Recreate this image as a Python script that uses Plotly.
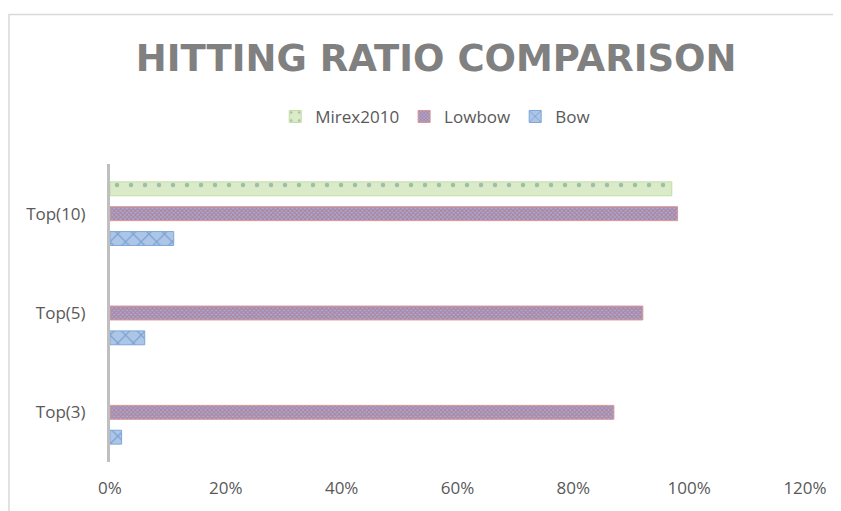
import plotly.graph_objects as go

categories = ["Top(3)", "Top(5)", "Top(10)"]
bow = [0.02, 0.06, 0.11]
lowbow = [0.87, 0.92, 0.98]
mirex2010 = [None, None, 0.97]

# the page body adds an 8px offset, so the figure is a bit smaller than the window
W, H = 833, 503
L, R, T, B = 102, 36, 156, 46

fig = go.Figure()
fig.add_trace(go.Bar(
    y=categories, x=bow, name="Bow", orientation="h",
    marker=dict(color="#a9c3e6", line=dict(color="#7ea6d6", width=1),
                pattern=dict(shape="x", fgcolor="#4a7ebb", bgcolor="#adc6e8", size=11, solidity=0.22)),
))
fig.add_trace(go.Bar(
    y=categories, x=lowbow, name="Lowbow", orientation="h",
    marker=dict(color="#b98c9e", line=dict(color="#d99694", width=1),
                pattern=dict(shape="x", fgcolor="#c0504d", bgcolor="#a4a9d4", size=3, solidity=0.5)),
))
fig.add_trace(go.Bar(
    y=categories, x=mirex2010, name="Mirex2010", orientation="h",
    marker=dict(color="#dbeac8", line=dict(color="#c3dca3", width=1),
                pattern=dict(shape=".", fgcolor="#5f9385", bgcolor="#dbeac8", size=14, solidity=0.08)),
))

fig.update_layout(
    width=W, height=H,
    margin=dict(l=L, r=R, t=T, b=B),
    paper_bgcolor="white", plot_bgcolor="white",
    barmode="group", bargap=0.25, bargroupgap=0.44,
    font=dict(family="Open Sans, Liberation Sans, sans-serif", color="#595959", size=17),
    title=dict(text="<b>HITTING RATIO COMPARISON</b>", x=0.514, xanchor="center", y=0.9, yanchor="middle",
               font=dict(size=37, color="#808080", family="DejaVu Sans, sans-serif")),
    legend=dict(orientation="h", x=0.468, xanchor="center", y=1.158, yanchor="middle",
                traceorder="reversed", font=dict(size=17, color="#595959")),
    xaxis=dict(range=[0, 1.2], dtick=0.2, tickformat=".0%", showgrid=False, zeroline=False,
               showline=False, ticks="", ticklabelstandoff=14, tickfont=dict(size=17)),
    yaxis=dict(showgrid=False, zeroline=False, showline=True, linecolor="#bfbfbf", linewidth=3,
               ticks="", ticklabelstandoff=18, tickfont=dict(size=17)),
)

# chart frame
pw, ph = W - L - R, H - T - B
fig.add_shape(type="rect", xref="paper", yref="paper",
              x0=(1 - L) / pw, x1=(W + 10 - L) / pw, y0=-(B + 10) / ph, y1=1 + (T - 5) / ph,
              line=dict(color="#d9d9d9", width=1.5), fillcolor="rgba(0,0,0,0)", layer="below")

fig.write_html("out.html")
